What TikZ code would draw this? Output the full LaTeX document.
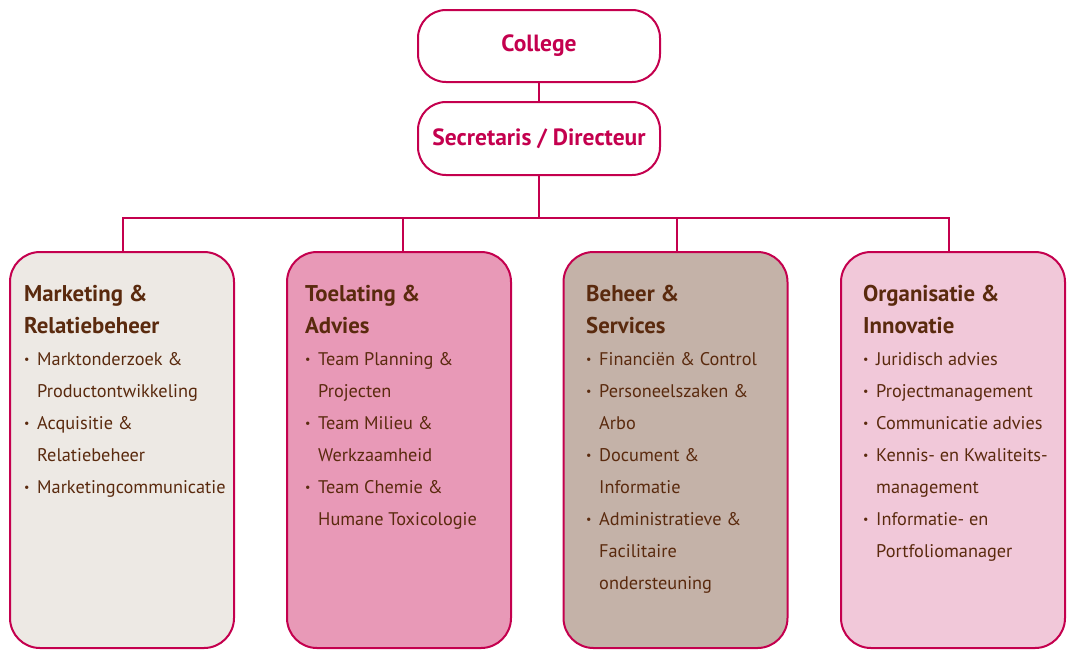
\documentclass[tikz,border=0pt]{standalone}
\usepackage{fontspec}
\setmainfont{PT Sans}
\definecolor{crim}{HTML}{C4004E}
\definecolor{brn}{HTML}{5A2A0E}
\definecolor{fillA}{HTML}{EDE9E4}
\definecolor{fillB}{HTML}{E899B7}
\definecolor{fillC}{HTML}{C4B2A8}
\definecolor{fillD}{HTML}{F1C8D9}
\newcommand{\blt}{\makebox[13pt][l]{\raisebox{0.12ex}{\fontsize{12}{12}\selectfont\textbullet}}}
\newcommand{\ind}{\hspace*{13pt}}
\newcommand{\hd}[1]{{\fontsize{22.8}{32}\selectfont\bfseries #1\par}}
\begin{document}
\begin{tikzpicture}[x=1pt,y=-1pt,
  topbox/.style={draw=crim, line width=2pt, rounded corners=28pt, fill=white,
    minimum width=242pt, text=crim, font=\fontsize{23.5}{26}\selectfont\bfseries, inner sep=0},
  dept/.style={draw=crim, line width=2pt, rounded corners=30pt,
    minimum width=224pt, minimum height=396pt, inner sep=0},
  conn/.style={draw=crim, line width=1.8pt},
  content/.style={anchor=base west, inner sep=0, text=brn}]
\useasboundingbox (0,0) rectangle (1071,649);
\node[topbox, minimum height=72pt] (college) at (539,46) {College};
\node[topbox, minimum height=73pt] (sec) at (539,138.5) {Secretaris / Directeur};
\node[dept, fill=fillA] (d1) at (122,450) {};
\node[dept, fill=fillB] (d2) at (399,450) {};
\node[dept, fill=fillC] (d3) at (675.5,450) {};
\node[dept, fill=fillD] (d4) at (953,450) {};
\draw[conn] (college.south) -- (sec.north);
\draw[conn] (sec.south) -- ++(0,42) coordinate (bus);
\draw[conn] ([xshift=1pt]d1.north) |- (bus);
\draw[conn] ([xshift=4pt]d2.north) |- (bus);
\draw[conn] ([xshift=1.5pt]d3.north) |- (bus);
\draw[conn] ([xshift=-4pt]d4.north) |- (bus);
\node[content] (t1) at (24,301) {\begin{minipage}[t]{210pt}\fontsize{18.3}{32}\selectfont\parindent=0pt
\hd{Marketing \&\\Relatiebeheer}
\blt Marktonderzoek \&\\
\ind Productontwikkeling\\
\blt Acquisitie \&\\
\ind Relatiebeheer\\
\blt Marketingcommunicatie\par
\end{minipage}};
\node[content] (t2) at (305,301) {\begin{minipage}[t]{200pt}\fontsize{18.3}{32}\selectfont\parindent=0pt
\hd{Toelating \&\\Advies}
\blt Team Planning \&\\
\ind Projecten\\
\blt Team Milieu \&\\
\ind Werkzaamheid\\
\blt Team Chemie \&\\
\ind Humane Toxicologie\par
\end{minipage}};
\node[content] (t3) at (586,301) {\begin{minipage}[t]{200pt}\fontsize{18.3}{32}\selectfont\parindent=0pt
\hd{Beheer \&\\Services}
\blt Financiën \& Control\\
\blt Personeelszaken \&\\
\ind Arbo\\
\blt Document \&\\
\ind Informatie\\
\blt Administratieve \&\\
\ind Facilitaire\\
\ind ondersteuning\par
\end{minipage}};
\node[content] (t4) at (863,301) {\begin{minipage}[t]{200pt}\fontsize{18.3}{32}\selectfont\parindent=0pt
\hd{Organisatie \&\\Innovatie}
\blt Juridisch advies\\
\blt Projectmanagement\\
\blt Communicatie advies\\
\blt Kennis- en Kwaliteits-\\
\ind management\\
\blt Informatie- en\\
\ind Portfoliomanager\par
\end{minipage}};
\end{tikzpicture}
\end{document}
